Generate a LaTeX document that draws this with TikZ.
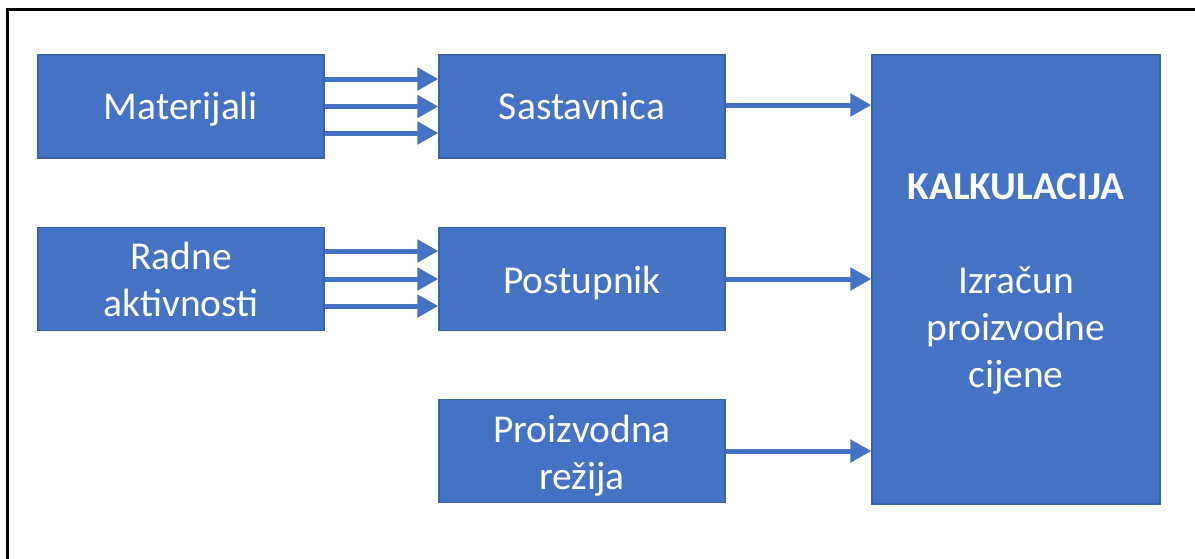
\documentclass[tikz,border=0pt]{standalone}
\usepackage{fontspec}
\setmainfont{Carlito}
\usetikzlibrary{arrows.meta}
\definecolor{boxblue}{HTML}{4472C4}
\definecolor{boxedge}{HTML}{3A62AD}
\tikzset{
  blk/.style={rectangle, fill=boxblue, draw=boxedge, line width=1.2pt,
    inner sep=0pt, minimum width=286pt, minimum height=103pt},
  txt/.style={text=white, font=\fontsize{39.5}{47}\selectfont, align=center, inner sep=0pt},
  arr/.style={draw=boxblue, line width=5pt, -{Triangle[length=21pt,width=22pt]}}
}
\begin{document}
\begin{tikzpicture}[x=1pt,y=-1pt]
\useasboundingbox (0,0) rectangle (1195,558);
\begin{scope}
\clip (0,0) rectangle (1195,558);
\draw[line width=2.5pt, black] (7.5,9.5) rectangle (1250,600);
\end{scope}
\node[blk, label={[txt,yshift=-3pt]center:Materijali}] (mat) at (181,106.5) {};
\node[blk, label={[txt,yshift=0pt]center:Sastavnica}] (sas) at (582,106.5) {};
\node[blk, label={[txt,yshift=0pt]center:Radne\\aktivnosti}] (rad) at (181,279) {};
\node[blk, label={[txt,yshift=-4pt]center:Postupnik}] (pos) at (582,279) {};
\node[blk, label={[txt,yshift=-5pt]center:Proizvodna\\režija}] (pro) at (582,451) {};
\node[blk, minimum width=288pt, minimum height=449pt,
  label={[txt,yshift=-4pt]center:\textbf{KALKULACIJA}\\[47pt]Izračun\\proizvodne\\cijene}] (kal) at (1016,279.5) {};
\draw[arr] ([yshift=27.5pt]mat.east) -- ([yshift=27.5pt]mat.east -| sas.west);
\draw[arr] (mat.east) -- (mat.east -| sas.west);
\draw[arr] ([yshift=-26.5pt]mat.east) -- ([yshift=-26.5pt]mat.east -| sas.west);
\draw[arr] ([yshift=28pt]rad.east) -- ([yshift=28pt]rad.east -| pos.west);
\draw[arr] (rad.east) -- (rad.east -| pos.west);
\draw[arr] ([yshift=-27pt]rad.east) -- ([yshift=-27pt]rad.east -| pos.west);
\draw[arr] ([yshift=1.5pt]sas.east) -- ([yshift=1.5pt]sas.east -| kal.west);
\draw[arr] (pos.east) -- (pos.east -| kal.west);
\draw[arr] (pro.east) -- (pro.east -| kal.west);
\end{tikzpicture}
\end{document}
